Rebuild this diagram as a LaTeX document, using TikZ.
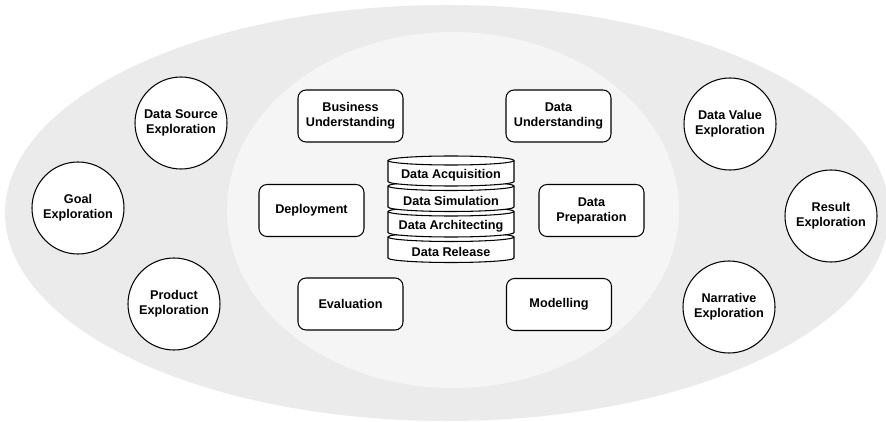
\documentclass[tikz,border=0pt]{standalone}
\usepackage{fontspec}
\setmainfont{Liberation Sans}
\definecolor{outerfill}{HTML}{EBEBEB}
\definecolor{innerfill}{HTML}{F5F5F5}
\tikzset{
  explore/.style={circle,draw,fill=white,line width=0.9pt,minimum size=27.6mm,inner sep=0pt,align=center},
  phase/.style={rectangle,rounded corners=2.4mm,draw,fill=white,line width=0.9pt,minimum width=31.5mm,minimum height=15.6mm,align=center},
  diskline/.style={draw,fill=white,line width=0.9pt},
  disklabel/.style={inner sep=0pt}
}
\begin{document}
\begin{tikzpicture}[x=0.3mm,y=0.3mm,font=\fontsize{10.8}{12.8}\selectfont\bfseries]
\useasboundingbox (0,0) rectangle (886,-422);
\fill[outerfill] (447,-213) ellipse[x radius=442,y radius=208];
\fill[innerfill] (453,-210) ellipse[x radius=226,y radius=178];
\node[explore] (dsrc) at (181,-123) {Data Source\\Exploration};
\node[explore] (goal) at (78,-208) {Goal\\Exploration};
\node[explore] (prod) at (174,-304) {Product\\Exploration};
\node[explore] (dval) at (730,-124) {Data Value\\Exploration};
\node[explore] (res) at (831,-216) {Result\\Exploration};
\node[explore] (narr) at (729,-307) {Narrative\\Exploration};
\node[phase] (bus) at (350.5,-116) {Business\\Understanding};
\node[phase] (dund) at (558.5,-116) {Data\\Understanding};
\node[phase] (dep) at (311.5,-210.5) {Deployment};
\node[phase] (dprep) at (591.5,-210.5) {Data\\Preparation};
\node[phase] (eval) at (350.5,-304) {Evaluation};
\node[phase] (model) at (559,-304.5) {Modelling};
\foreach \t/\txt/\nm in {232.5/Data Release/rel,207/Data Architecting/arch,181.5/Data Simulation/sim,156/Data Acquisition/acq}{
  \filldraw[diskline] (388,-\t-4.5) -- (388,-\t-25.5) arc[start angle=180,end angle=360,x radius=63,y radius=4.5] -- (514,-\t-4.5) arc[start angle=0,end angle=180,x radius=63,y radius=4.5] -- cycle;
  \draw[line width=0.9pt] (388,-\t-4.5) arc[start angle=180,end angle=360,x radius=63,y radius=4.5];
  \node[disklabel] (\nm) at (451,-\t-19.5) {\txt};
}
\end{tikzpicture}
\end{document}
